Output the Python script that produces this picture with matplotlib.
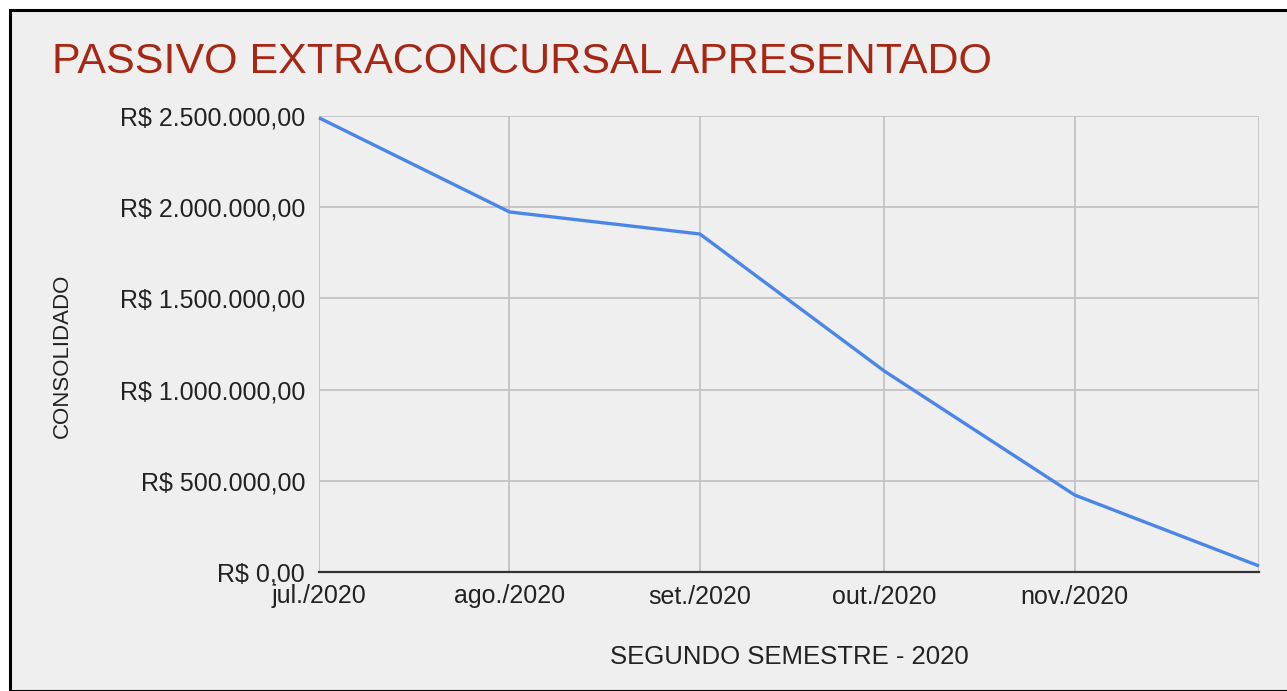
import matplotlib.pyplot as plt
import pandas as pd
from matplotlib.patches import Rectangle
from matplotlib.ticker import FuncFormatter

plt.rcParams["font.family"] = ["Liberation Sans", "DejaVu Sans"]

# ---------------------------------------------------------------- data
months = ["2020-07-01", "2020-08-01", "2020-09-01", "2020-10-01",
          "2020-11-01", "2020-12-01"]
passivo = [2490000, 1974000, 1853000, 1102000, 422000, 33000]
tick_labels = ["jul./2020", "ago./2020", "set./2020", "out./2020", "nov./2020", ""]

dates = pd.to_datetime(months)


def brl(v, _pos=None):
    s = f"{v:,.2f}".replace(",", "X").replace(".", ",").replace("X", ".")
    return f"R$ {s}"


# ---------------------------------------------------------------- figure
W, H = 1287, 691
fig = plt.figure(figsize=(W / 100, H / 100), dpi=100, facecolor="white")

# grey panel with a black frame, top-left corner only visible
fig.patches.append(Rectangle((10 / W, 0), 1, 1 - 10 / H, transform=fig.transFigure,
                             facecolor="#efefef", edgecolor="black", linewidth=2.2,
                             zorder=-5))

ax = fig.add_axes([319 / W, 1 - 572 / H, (1259 - 319) / W, (572 - 116) / H])
ax.set_facecolor("#efefef")

ax.plot(dates, passivo, color="#4a86e8", linewidth=2.4, solid_capstyle="butt",
        clip_on=False, zorder=3)

ax.set_xlim(dates[0], dates[-1])
ax.set_ylim(0, 2500000)
ax.set_yticks(range(0, 2500001, 500000))
ax.yaxis.set_major_formatter(FuncFormatter(brl))
ax.set_xticks(dates)
ax.set_xticklabels(tick_labels)

ax.grid(True, color="#c3c3c3", linewidth=1.3)
ax.set_axisbelow(True)
for side in ["top", "right", "left"]:
    ax.spines[side].set_visible(False)
ax.spines["bottom"].set_color("#333333")
ax.spines["bottom"].set_linewidth(1.6)
ax.spines["bottom"].set_zorder(4)

ax.tick_params(axis="y", length=0, pad=10, labelsize=18, labelcolor="#222222")
ax.tick_params(axis="x", length=0, pad=9, labelsize=18, labelcolor="#222222")

ax.set_xlabel("SEGUNDO SEMESTRE - 2020", fontsize=18.5, color="#222222", labelpad=26)
fig.text(62 / W, 1 - 356 / H, "CONSOLIDADO", rotation=90, fontsize=16,
         color="#222222", ha="center", va="center")

fig.text(52 / W, 1 - 62 / H, "PASSIVO EXTRACONCURSAL APRESENTADO", fontsize=31,
         color="#a52714", ha="left", va="center")

fig.savefig("out.png", dpi=100, facecolor=fig.get_facecolor())
